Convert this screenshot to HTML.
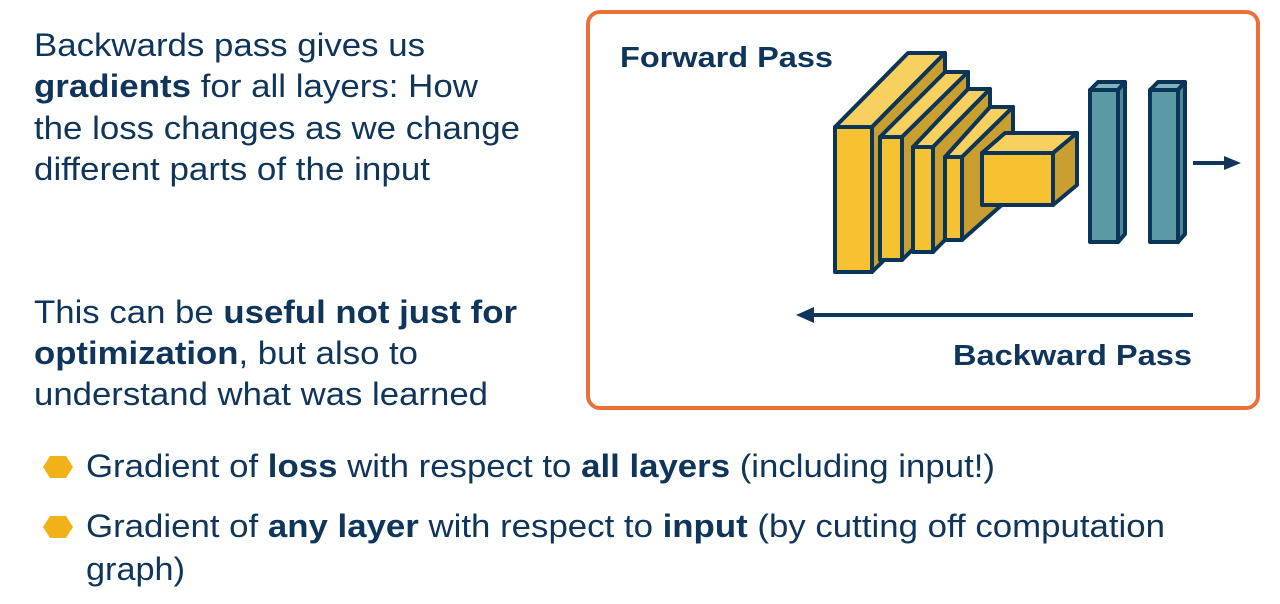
<!DOCTYPE html>
<html><head><meta charset="utf-8"><style>
html,body{margin:0;padding:0;background:#fff;width:1280px;height:604px;overflow:hidden}
svg{display:block}
text{font-family:"Liberation Sans",Arial,sans-serif;fill:#0f355a}
.b{font-weight:bold}
</style></head><body>
<svg width="1280" height="604" viewBox="0 0 1280 604" xmlns="http://www.w3.org/2000/svg">
<g font-size="32.5">
<text x="34" y="56" textLength="391" lengthAdjust="spacingAndGlyphs">Backwards pass gives us</text>
<text x="34" y="97" textLength="444" lengthAdjust="spacingAndGlyphs"><tspan class="b">gradients</tspan> for all layers: How</text>
<text x="34" y="139" textLength="486" lengthAdjust="spacingAndGlyphs">the loss changes as we change</text>
<text x="34" y="180" textLength="396" lengthAdjust="spacingAndGlyphs">different parts of the input</text>
<text x="34" y="323" textLength="483" lengthAdjust="spacingAndGlyphs">This can be <tspan class="b">useful not just for</tspan></text>
<text x="34" y="364" textLength="384" lengthAdjust="spacingAndGlyphs"><tspan class="b">optimization</tspan>, but also to</text>
<text x="34" y="405" textLength="454" lengthAdjust="spacingAndGlyphs">understand what was learned</text>
</g>
<g font-size="32.5">
<text x="86" y="477" textLength="909" lengthAdjust="spacingAndGlyphs">Gradient of <tspan class="b">loss</tspan> with respect to <tspan class="b">all layers</tspan> (including input!)</text>
<text x="86" y="537" textLength="1079" lengthAdjust="spacingAndGlyphs">Gradient of <tspan class="b">any layer</tspan> with respect to <tspan class="b">input</tspan> (by cutting off computation</text>
<text x="86" y="580" textLength="99" lengthAdjust="spacingAndGlyphs">graph)</text>
</g>
<polygon points="43,467 50,456 66,456 73,467 66,478 50,478" fill="#f0b218"/>
<polygon points="43,527 50,516 66,516 73,527 66,538 50,538" fill="#f0b218"/>

<rect x="588" y="12" width="670" height="396" rx="12" fill="none" stroke="#ea6f38" stroke-width="4"/>
<text x="620" y="67" font-size="29" class="b" textLength="213" lengthAdjust="spacingAndGlyphs">Forward Pass</text>
<text x="953" y="365" font-size="29" class="b" textLength="239" lengthAdjust="spacingAndGlyphs">Backward Pass</text>
<line x1="810" y1="315" x2="1193" y2="315" stroke="#0f355a" stroke-width="4"/>
<polygon points="796,315 814,307 814,323" fill="#0f355a"/>
<line x1="1193" y1="163" x2="1226" y2="163" stroke="#0f355a" stroke-width="4"/>
<polygon points="1241,163 1224,156 1224,170" fill="#0f355a"/>

<g stroke="#0b3558" stroke-width="4" stroke-linejoin="round">
<polygon points="835,127 908,53 945,53 872,127" fill="#f8d060"/>
<polygon points="872,127 945,53 945,200 872,272" fill="#c9a030"/>
<rect x="835" y="127" width="37" height="145" fill="#f6c232"/>
<polygon points="880,137 945,72 968,72 902,137" fill="#f8d060"/>
<polygon points="902,137 968,72 968,195 902,260" fill="#c9a030"/>
<rect x="880" y="137" width="22" height="123" fill="#f6c232"/>
<polygon points="913,147 968,89 990,89 933,147" fill="#f8d060"/>
<polygon points="933,147 990,89 990,195 933,252" fill="#c9a030"/>
<rect x="913" y="147" width="20" height="105" fill="#f6c232"/>
<polygon points="945,157 990,107 1013,107 962,157" fill="#f8d060"/>
<polygon points="962,157 1013,107 1013,195 962,240" fill="#c9a030"/>
<rect x="945" y="157" width="17" height="83" fill="#f6c232"/>
<polygon points="982,153 1005,133 1077,133 1053,153" fill="#f8d060"/>
<polygon points="1053,153 1077,133 1077,185 1053,205" fill="#c9a030"/>
<rect x="982" y="153" width="71" height="52" fill="#f6c232"/>
<polygon points="1090,90 1098,82 1125,82 1118,90" fill="#7fb4bc"/>
<polygon points="1118,90 1125,82 1125,234 1118,242" fill="#4d8a94"/>
<rect x="1090" y="90" width="28" height="152" fill="#5b9aa4"/>
<polygon points="1150,90 1158,82 1185,82 1178,90" fill="#7fb4bc"/>
<polygon points="1178,90 1185,82 1185,234 1178,242" fill="#4d8a94"/>
<rect x="1150" y="90" width="28" height="152" fill="#5b9aa4"/>
</g>
</svg>
</body></html>
